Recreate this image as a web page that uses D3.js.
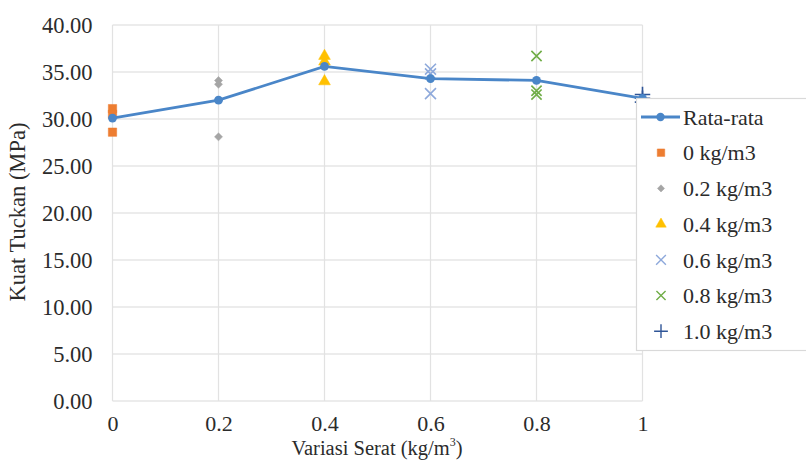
<!DOCTYPE html>
<html>
<head>
<meta charset="utf-8">
<script src="https://cdn.jsdelivr.net/npm/d3@7"></script>
<style>
body{margin:0;background:#fff;}
svg text{font-family:"Liberation Serif","Times New Roman",serif;fill:#2b2b2b;}
</style>
</head>
<body>
<div class="chart"></div>
<script>
// fibre content (kg/m3) on the x axis
const serat = [0, 0.2, 0.4, 0.6, 0.8, 1];
const rataRata = [30.1, 32.0, 35.6, 34.3, 34.1, 32.2];
// three specimens per mix
const s0 = [31.1, 30.5, 28.6];
const s02 = [33.7, 34.1, 28.1];
const s04 = [36.7, 36.1, 34.0];
const s06 = [35.3, 34.8, 32.7];
const s08 = [36.7, 33.0, 32.6];
const s10 = [32.6, 32.2, 31.8];
const yTicks = [0, 5, 10, 15, 20, 25, 30, 35, 40];
const legendLabels = ["Rata-rata", "0 kg/m3", "0.2 kg/m3", "0.4 kg/m3", "0.6 kg/m3", "0.8 kg/m3", "1.0 kg/m3"];

const groups = [
  {vals: s0, sym: d3.symbolSquare, size: 70, rot: 0, color: "#ED7D31", fill: true},
  {vals: s02, sym: d3.symbolSquare, size: 32, rot: 45, color: "#A5A5A5", fill: true},
  {vals: s04, sym: d3.symbolTriangle, size: 60, rot: 0, color: "#FFC000", fill: true},
  {vals: s06, sym: d3.symbolX, size: 80, rot: 0, color: "#8EA9DB", fill: false},
  {vals: s08, sym: d3.symbolX, size: 70, rot: 0, color: "#70AD47", fill: false},
  {vals: s10, sym: d3.symbolCross2 || d3.symbolPlus, size: 80, rot: 0, color: "#2F5597", fill: false}
];

let svg = d3.select(".chart").append("svg")
    .attr("width", 806)
    .attr("height", 463)

let x = d3.scaleLinear().domain([0, 1]).range([112.5, 642.5])
let y = d3.scaleLinear().domain([0, 40]).range([401, 25])

// gridlines
svg.append("g").selectAll("line").data(yTicks).join("line")
    .attr("x1", 112.5).attr("x2", 642.5)
    .attr("y1", d => y(d)).attr("y2", d => y(d))
    .attr("stroke", "#d9d9d9").attr("stroke-width", 1.2)
svg.append("g").selectAll("line").data(serat).join("line")
    .attr("x1", d => x(d)).attr("x2", d => x(d))
    .attr("y1", y(0)).attr("y2", y(40))
    .attr("stroke", "#e2e2e2").attr("stroke-width", 1.2)

// axes (labels only)
let yAxis = d3.axisLeft(y).tickValues(yTicks).tickFormat(d3.format(".2f")).tickSize(0).tickPadding(20)
let gy = svg.append("g").attr("transform", "translate(112.5,0)").call(yAxis)
gy.select(".domain").remove()
gy.selectAll("text").attr("font-size", 22.5).attr("fill", "#2b2b2b")

let xAxis = d3.axisBottom(x).tickValues(serat).tickFormat(d => d).tickSize(0).tickPadding(14)
let gx = svg.append("g").attr("transform", "translate(0," + y(0) + ")").call(xAxis)
gx.select(".domain").remove()
gx.selectAll("text").attr("font-size", 22).attr("fill", "#2b2b2b")

// titles
let xt = svg.append("text").attr("x", 377).attr("y", 455).attr("text-anchor", "middle").attr("font-size", 20.5)
xt.append("tspan").text("Variasi  Serat (kg/m")
xt.append("tspan").text("3").attr("font-size", 12).attr("dy", -9)
xt.append("tspan").text(")").attr("dy", 9)

svg.append("text")
    .attr("transform", "translate(25,212) rotate(-90)")
    .attr("text-anchor", "middle").attr("font-size", 22.5)
    .text("Kuat Tuckan (MPa)")

// specimen points
groups.forEach((g, i) => {
  svg.append("g").selectAll("path").data(g.vals).join("path")
      .attr("transform", d => "translate(" + x(serat[i]) + "," + y(d) + ") rotate(" + g.rot + ")")
      .attr("d", d3.symbol().type(g.sym).size(g.size))
      .attr("fill", g.fill ? g.color : "none")
      .attr("stroke", g.color)
      .attr("stroke-width", g.fill ? 0.5 : 1.6)
})

// average line
let line = d3.line().x((d, i) => x(serat[i])).y(d => y(d))
svg.append("path").datum(rataRata)
    .attr("d", line).attr("fill", "none")
    .attr("stroke", "#4a86c8").attr("stroke-width", 2.8)
svg.append("g").selectAll("circle").data(rataRata).join("circle")
    .attr("cx", (d, i) => x(serat[i])).attr("cy", d => y(d)).attr("r", 4.4)
    .attr("fill", "#4a86c8")

// legend
let lg = svg.append("g")
lg.append("rect").attr("x", 636.5).attr("y", 98.5).attr("width", 180).attr("height", 252)
    .attr("fill", "#fff").attr("stroke", "#d9d9d9").attr("stroke-width", 1.2)
legendLabels.forEach((lab, i) => {
  let ly = 117 + i * 35.7
  if (i == 0) {
    lg.append("line").attr("x1", 641).attr("x2", 680).attr("y1", ly).attr("y2", ly)
      .attr("stroke", "#4a86c8").attr("stroke-width", 2.8)
    lg.append("circle").attr("cx", 660.5).attr("cy", ly).attr("r", 4.2).attr("fill", "#4a86c8")
  } else {
    let g = groups[i - 1]
    lg.append("path").attr("transform", "translate(661," + ly + ") rotate(" + g.rot + ")")
      .attr("d", d3.symbol().type(g.sym).size(g.size * 0.8))
      .attr("fill", g.fill ? g.color : "none")
      .attr("stroke", g.color)
      .attr("stroke-width", g.fill ? 0.5 : 1.4)
  }
  lg.append("text").attr("x", 683).attr("y", ly).attr("dy", "0.35em")
    .attr("font-size", 22).text(lab)
})
</script>
</body>
</html>
